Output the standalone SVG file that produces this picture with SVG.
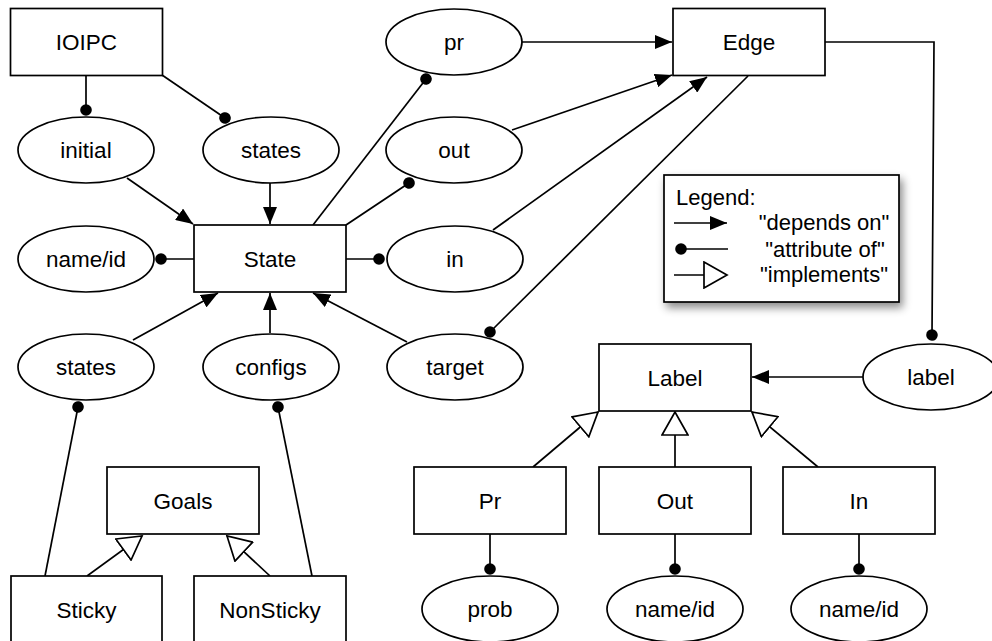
<svg xmlns="http://www.w3.org/2000/svg" width="992" height="641" viewBox="0 0 992 641">
  <style>
    .box { fill: #ffffff; stroke: #000000; stroke-width: 1.7; }
    .lbl { font-family: "Liberation Sans", Arial, Helvetica, sans-serif; font-size: 22.5px; fill: #000000; text-anchor: middle; }
    .leg { font-family: "Liberation Sans", Arial, Helvetica, sans-serif; font-size: 22px; fill: #000000; }
    .ln { fill: none; stroke: #000000; stroke-width: 1.7; }
    .dep { marker-end: url(#arrow); }
    .att { marker-end: url(#ball); }
    .imp { marker-end: url(#hollow); }
  </style>
  <defs>
    <marker id="arrow" viewBox="0 0 17 14" refX="17" refY="7" markerWidth="17" markerHeight="14" markerUnits="userSpaceOnUse" orient="auto">
      <path d="M0,0 L17,7 L0,14 z" fill="#000000"/>
    </marker>
    <marker id="ball" viewBox="-6 -6 12 12" refX="0" refY="0" markerWidth="12" markerHeight="12" markerUnits="userSpaceOnUse" orient="auto">
      <circle cx="0" cy="0" r="5.8" fill="#000000"/>
    </marker>
    <marker id="hollow" viewBox="-1 -1 26 28" refX="23" refY="13" markerWidth="26" markerHeight="28" markerUnits="userSpaceOnUse" orient="auto">
      <path d="M0,0 L23,13 L0,26 z" fill="#ffffff" stroke="#000000" stroke-width="1.7"/>
    </marker>
    <filter id="shadow" x="-10%" y="-15%" width="125%" height="140%">
      <feDropShadow dx="3" dy="5" stdDeviation="4" flood-color="#000000" flood-opacity="0.45"/>
    </filter>
  </defs>

  <!-- connectors -->
  <g id="connectors">
    <line class="ln att" x1="86" y1="75" x2="86" y2="110"/>
    <line class="ln att" x1="162" y1="75" x2="225" y2="118"/>
    <line class="ln dep" x1="127" y1="178" x2="193" y2="224"/>
    <line class="ln dep" x1="270" y1="183" x2="270" y2="224"/>
    <line class="ln att" x1="313" y1="225" x2="426" y2="79"/>
    <line class="ln att" x1="346" y1="225" x2="409" y2="183"/>
    <line class="ln att" x1="194" y1="259" x2="161" y2="259"/>
    <line class="ln att" x1="346" y1="259" x2="379" y2="259"/>
    <line class="ln dep" x1="133" y1="340" x2="218" y2="293"/>
    <line class="ln dep" x1="270" y1="333" x2="270" y2="293"/>
    <line class="ln dep" x1="407" y1="342" x2="313" y2="293"/>
    <line class="ln dep" x1="522" y1="42" x2="672" y2="42"/>
    <line class="ln dep" x1="512" y1="130" x2="672" y2="75"/>
    <line class="ln dep" x1="493" y1="230" x2="707" y2="77"/>
    <line class="ln att" x1="748" y1="76" x2="490" y2="332"/>
    <polyline class="ln att" points="825,42 934,42 932,335"/>
    <line class="ln dep" x1="863" y1="377" x2="752" y2="377"/>
    <line class="ln imp" x1="533" y1="467" x2="598" y2="412"/>
    <line class="ln imp" x1="675" y1="467" x2="675" y2="412"/>
    <line class="ln imp" x1="818" y1="467" x2="752" y2="412"/>
    <line class="ln att" x1="490" y1="534" x2="490" y2="569"/>
    <line class="ln att" x1="675" y1="534" x2="675" y2="569"/>
    <line class="ln att" x1="859" y1="534" x2="859" y2="569"/>
    <line class="ln att" x1="45" y1="576" x2="78" y2="407"/>
    <line class="ln att" x1="312" y1="576" x2="278" y2="407"/>
    <line class="ln imp" x1="87" y1="576" x2="142" y2="536"/>
    <line class="ln imp" x1="270" y1="576" x2="227" y2="536"/>
  </g>

  <!-- classes (boxes) -->
  <g id="IOIPC"><rect class="box" x="10.5" y="8.5" width="152" height="67"/><text class="lbl" x="86.5" y="50">IOIPC</text></g>
  <g id="State"><rect class="box" x="194" y="225" width="152" height="67"/><text class="lbl" x="270" y="266.5">State</text></g>
  <g id="Edge"><rect class="box" x="673" y="8.5" width="152" height="67"/><text class="lbl" x="749" y="50">Edge</text></g>
  <g id="Label"><rect class="box" x="599" y="344" width="152" height="67"/><text class="lbl" x="675" y="385.5">Label</text></g>
  <g id="Goals"><rect class="box" x="107" y="467" width="152" height="67"/><text class="lbl" x="183" y="508.5">Goals</text></g>
  <g id="Pr"><rect class="box" x="414" y="467" width="152" height="67"/><text class="lbl" x="490" y="508.5">Pr</text></g>
  <g id="Out"><rect class="box" x="599" y="467" width="152" height="67"/><text class="lbl" x="675" y="508.5">Out</text></g>
  <g id="In"><rect class="box" x="783" y="467" width="152" height="67"/><text class="lbl" x="859" y="508.5">In</text></g>
  <g id="Sticky"><rect class="box" x="11" y="576" width="151" height="67"/><text class="lbl" x="86.5" y="617.5">Sticky</text></g>
  <g id="NonSticky"><rect class="box" x="194" y="576" width="152" height="67"/><text class="lbl" x="270" y="617.5">NonSticky</text></g>

  <!-- attributes (ellipses) -->
  <g id="initial"><ellipse class="box" cx="86" cy="150" rx="68" ry="33"/><text class="lbl" x="86" y="158">initial</text></g>
  <g id="states-top"><ellipse class="box" cx="271" cy="150" rx="68" ry="33"/><text class="lbl" x="271" y="158">states</text></g>
  <g id="pr"><ellipse class="box" cx="454" cy="42" rx="68" ry="33"/><text class="lbl" x="454" y="50">pr</text></g>
  <g id="out"><ellipse class="box" cx="454" cy="150" rx="68" ry="33"/><text class="lbl" x="454" y="158">out</text></g>
  <g id="name-id-state"><ellipse class="box" cx="86" cy="259" rx="68" ry="33"/><text class="lbl" x="86" y="267">name/id</text></g>
  <g id="in"><ellipse class="box" cx="455" cy="259" rx="68" ry="33"/><text class="lbl" x="455" y="267">in</text></g>
  <g id="states-low"><ellipse class="box" cx="86" cy="367" rx="68" ry="33"/><text class="lbl" x="86" y="375">states</text></g>
  <g id="configs"><ellipse class="box" cx="271" cy="367" rx="68" ry="33"/><text class="lbl" x="271" y="375">configs</text></g>
  <g id="target"><ellipse class="box" cx="455" cy="367" rx="68" ry="33"/><text class="lbl" x="455" y="375">target</text></g>
  <g id="label"><ellipse class="box" cx="931" cy="377" rx="68" ry="33"/><text class="lbl" x="931" y="385">label</text></g>
  <g id="prob"><ellipse class="box" cx="490" cy="609" rx="68" ry="33"/><text class="lbl" x="490" y="617">prob</text></g>
  <g id="name-id-out"><ellipse class="box" cx="675" cy="609" rx="68" ry="33"/><text class="lbl" x="675" y="617">name/id</text></g>
  <g id="name-id-in"><ellipse class="box" cx="859" cy="609" rx="68" ry="33"/><text class="lbl" x="859" y="617">name/id</text></g>

  <!-- legend -->
  <g id="legend">
    <rect class="box" x="664" y="175" width="235" height="127" filter="url(#shadow)"/>
    <text class="leg" x="676" y="205">Legend:</text>
    <line class="ln dep" x1="674" y1="223" x2="727" y2="223"/>
    <text class="leg" x="824" y="230" text-anchor="middle">"depends on"</text>
    <line class="ln" x1="681" y1="249" x2="728" y2="249"/>
    <circle cx="681" cy="249" r="5.8" fill="#000000"/>
    <text class="leg" x="825" y="257" text-anchor="middle">"attribute of"</text>
    <line class="ln imp" x1="674" y1="275" x2="727" y2="275"/>
    <text class="leg" x="824" y="282" text-anchor="middle">"implements"</text>
  </g>
</svg>
